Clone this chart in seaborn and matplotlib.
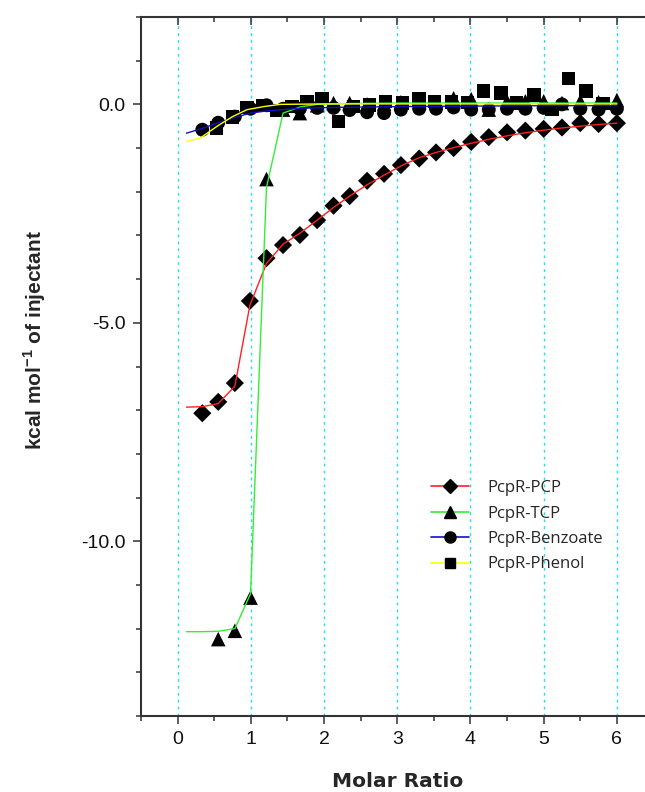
import numpy as np
import pandas as pd
import matplotlib
matplotlib.use("Agg")
import matplotlib.pyplot as plt
from matplotlib.lines import Line2D
from matplotlib.ticker import MultipleLocator, FixedLocator
import seaborn as sns

# ---------------- data ----------------
series_names = ["PcpR-PCP", "PcpR-TCP", "PcpR-Benzoate", "PcpR-Phenol"]

pcp_x = [0.337, 0.555, 0.782, 0.987, 1.214, 1.44, 1.67, 1.906, 2.13, 2.35, 2.588, 2.82,
         3.05, 3.30, 3.53, 3.77, 4.01, 4.25, 4.50, 4.75, 5.0, 5.25, 5.5, 5.75, 6.0]
pcp_y = [-7.07, -6.81, -6.38, -4.50, -3.52, -3.22, -2.99, -2.65, -2.32, -2.10, -1.75, -1.59,
         -1.39, -1.24, -1.10, -1.00, -0.86, -0.75, -0.64, -0.60, -0.56, -0.53, -0.43, -0.45, -0.43]
pcp_fit_x = [0.12, 0.337, 0.555, 0.782, 0.987, 1.214, 1.44, 1.67, 1.906, 2.13, 2.35, 2.588, 2.82,
             3.05, 3.30, 3.53, 3.77, 4.01, 4.25, 4.50, 4.75, 5.0, 5.25, 5.5, 5.75, 6.0]
pcp_fit_y = [-6.93, -6.92, -6.85, -6.45, -4.60, -3.64, -3.20, -2.95, -2.65, -2.36, -2.10, -1.84,
             -1.62, -1.41, -1.22, -1.10, -0.99, -0.89, -0.80, -0.72, -0.65, -0.59, -0.54, -0.50,
             -0.46, -0.43]

tcp_x = [0.555, 0.782, 0.996, 1.214, 1.44, 1.67, 1.906, 2.13, 2.35, 2.588, 2.82, 3.05, 3.30,
         3.53, 3.77, 4.01, 4.25, 4.50, 4.75, 5.0, 5.25, 5.5, 5.75, 6.0]
tcp_y = [-12.24, -12.05, -11.29, -1.71, -0.12, -0.20, -0.02, 0.03, 0.03, 0.00, 0.02, 0.05, 0.05,
         0.05, 0.14, 0.12, -0.12, 0.07, 0.07, 0.07, 0.03, 0.07, 0.05, 0.10]
tcp_fit_x = [0.12, 0.337, 0.555, 0.782, 0.996, 1.214, 1.44, 1.67, 1.906, 2.35, 3.05, 4.01, 5.0, 6.0]
tcp_fit_y = [-12.07, -12.07, -12.06, -12.00, -11.20, -1.90, -0.20, -0.06, 0.00, 0.02, 0.03, 0.03,
             0.03, 0.03]

benz_x = [0.337, 0.555, 0.782, 0.996, 1.214, 1.44, 1.67, 1.906, 2.13, 2.35, 2.588, 2.82, 3.05,
          3.30, 3.53, 3.77, 4.01, 4.25, 4.50, 4.75, 5.0, 5.25, 5.5, 5.75, 6.0]
benz_y = [-0.58, -0.42, -0.28, -0.10, -0.02, -0.10, -0.10, -0.08, -0.08, -0.13, -0.18, -0.20,
          -0.12, -0.10, -0.10, -0.07, -0.12, -0.12, -0.10, -0.10, -0.08, 0.00, -0.10, -0.12, -0.10]
benz_fit_x = [0.12, 0.337, 0.555, 0.782, 0.996, 1.214, 1.44, 1.67, 2.13, 3.05, 4.01, 5.0, 6.0]
benz_fit_y = [-0.66, -0.55, -0.42, -0.30, -0.20, -0.15, -0.12, -0.09, -0.07, -0.05, -0.04,
              -0.03, -0.03]

phen_x = [0.53, 0.75, 0.95, 1.17, 1.36, 1.56, 1.77, 1.97, 2.20, 2.40, 2.62, 2.84, 3.07, 3.30,
          3.51, 3.74, 3.96, 4.18, 4.42, 4.63, 4.87, 5.11, 5.34, 5.58, 5.81]
phen_y = [-0.54, -0.29, -0.07, -0.03, -0.14, -0.05, 0.07, 0.13, -0.39, -0.05, -0.02, 0.07, 0.03,
          0.12, 0.07, 0.05, 0.04, 0.31, 0.26, 0.03, 0.22, -0.12, 0.59, 0.31, 0.02]
phen_fit_x = [0.12, 0.31, 0.54, 0.75, 0.95, 1.18, 1.40, 2.0, 3.0, 4.0, 5.0, 6.0]
phen_fit_y = [-0.85, -0.77, -0.50, -0.28, -0.12, -0.05, 0.00, 0.01, 0.01, 0.01, 0.01, 0.01]

x_major_ticks = [0, 1, 2, 3, 4, 5, 6]
x_tick_labels = ["0", "1", "2", "3", "4", "5", "6"]
y_major_ticks = [0.0, -5.0, -10.0]
y_tick_labels = ["0.0", "-5.0", "-10.0"]

# ---------------- style ----------------
sns.set_style("ticks")
plt.rcParams["font.family"] = ["Liberation Sans", "DejaVu Sans"]

fig = plt.figure(figsize=(6.45, 7.92), dpi=100)
W, H = 645, 792
ax = fig.add_axes([141 / W, 1 - 716 / H, (653.5 - 141) / W, (716 - 17) / H])

fit_colors = ["#ff2020", "#33ee33", "#1010c8", "#ffff00"]
markers = ["D", "^", "o", "s"]
msizes = [85, 110, 100, 95]

pts = [(pcp_x, pcp_y), (tcp_x, tcp_y), (benz_x, benz_y), (phen_x, phen_y)]
fits = [(pcp_fit_x, pcp_fit_y), (tcp_fit_x, tcp_fit_y), (benz_fit_x, benz_fit_y),
        (phen_fit_x, phen_fit_y)]

for (px, py), m, s in zip(pts, markers, msizes):
    sns.scatterplot(x=px, y=py, marker=m, s=s, color="black", edgecolor="none",
                    ax=ax, zorder=2, legend=False)

for (fx, fy), c in zip(fits, fit_colors):
    sns.lineplot(x=fx, y=fy, color=c, lw=1.0, ax=ax, zorder=3, legend=False,
                 sort=False, estimator=None)

ax.set_xlim(-0.5, 6.5)
ax.set_ylim(-14, 2)

ax.xaxis.set_major_locator(FixedLocator(x_major_ticks))
ax.set_xticklabels(x_tick_labels)
ax.xaxis.set_minor_locator(MultipleLocator(0.5))
ax.yaxis.set_major_locator(FixedLocator(y_major_ticks))
ax.set_yticklabels(y_tick_labels)
ax.yaxis.set_minor_locator(MultipleLocator(1.0))
ax.grid(axis="x", which="major", color="#22e0ee", linestyle=(0, (2, 3)), lw=1.0, zorder=0)
ax.set_axisbelow(True)

for sp in ax.spines.values():
    sp.set_color("#333333")
    sp.set_linewidth(1.5)

ax.tick_params(axis="both", which="major", length=6, width=1.1, color="#333333",
               labelsize=14, labelcolor="#111111", pad=5)
ax.tick_params(axis="both", which="minor", length=3.8, width=1.1, color="#333333")
ax.tick_params(axis="x", which="both", bottom=True, top=True, labeltop=False, direction="out")
ax.tick_params(axis="y", which="both", left=True, right=True, labelright=False, direction="out")
for t in ax.xaxis.get_major_ticks() + ax.xaxis.get_minor_ticks():
    t.tick2line.set_marker(3)
for t in ax.yaxis.get_major_ticks() + ax.yaxis.get_minor_ticks():
    t.tick2line.set_marker(0)

ax.set_ylabel("kcal mol$^{\\mathregular{-1}}$ of injectant", fontsize=15, fontweight="bold",
              family=["Liberation Sans", "DejaVu Sans"])
ax.yaxis.set_label_coords(-0.207, 0.538)
ax.yaxis.label.set_va("center")
ax.set_xlabel("Molar Ratio", fontsize=14.5, fontweight="bold", family=["DejaVu Sans"])
ax.xaxis.set_label_coords(0.5, -0.093)
ax.xaxis.label.set_va("center")

handles = [Line2D([], [], color=c, lw=1.2, marker=m, markersize=ms, markerfacecolor="black",
                  markeredgecolor="black")
           for c, m, ms in zip(fit_colors, markers, [7, 8, 8, 7])]
leg = ax.legend(handles, series_names, loc="upper left",
                bbox_to_anchor=(416 / W, 1 - 465 / H), bbox_transform=fig.transFigure,
                frameon=False, prop={"family": ["Open Sans", "DejaVu Sans"], "size": 12},
                handlelength=2.3, handletextpad=1.1, labelspacing=0.57)

fig.savefig("out.png", dpi=100)
